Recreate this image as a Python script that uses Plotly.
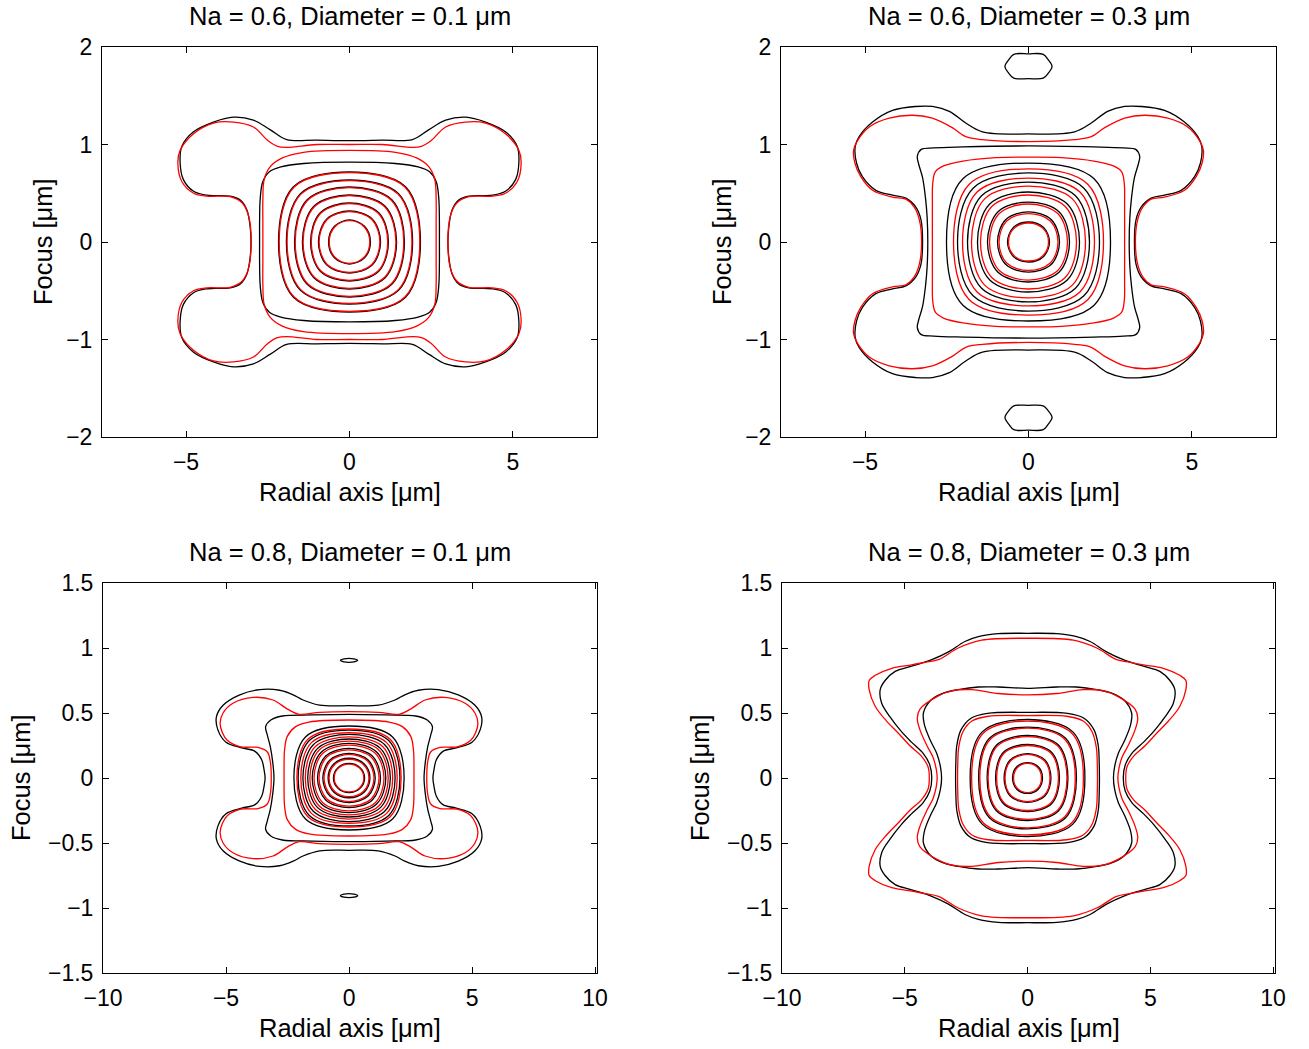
import plotly.graph_objects as go

# ---------------- Panel 1: Na = 0.6, Diameter = 0.1 um (quarter contours, first quadrant) -------------
P1_BLACK_OUTER_X = [0, 1.0, 1.92, 2.42, 2.94, 3.55, 4.16, 4.77, 5.13, 5.18, 5.08, 4.77, 4.36, 3.65, 3.34, 3.14, 3.04, 3.01]
P1_BLACK_OUTER_Y = [1.04, 1.045, 1.05, 1.15, 1.25, 1.28, 1.23, 1.13, 0.98, 0.81, 0.64, 0.52, 0.48, 0.47, 0.43, 0.33, 0.16, 0]
P1_RED_OUTER_X = [0, 1.0, 1.92, 2.2, 2.5, 2.94, 3.55, 4.16, 4.77, 5.18, 5.25, 5.13, 4.77, 4.36, 3.65, 3.28, 3.08, 3.01]
P1_RED_OUTER_Y = [1.00, 1.0, 0.97, 0.98, 1.04, 1.18, 1.23, 1.22, 1.11, 0.94, 0.81, 0.62, 0.50, 0.47, 0.465, 0.40, 0.26, 0]
P1_BLACK_SQ_X = [0, 1.4, 2.1, 2.45, 2.65, 2.73, 2.75, 2.75]
P1_BLACK_SQ_Y = [0.82, 0.805, 0.77, 0.72, 0.62, 0.45, 0.2, 0]
P1_RED_SQ_X = [0, 1.41, 2.07, 2.43, 2.61, 2.65, 2.65, 2.65]
P1_RED_SQ_Y = [0.94, 0.92, 0.86, 0.77, 0.64, 0.43, 0.2, 0]
P1_BLACK_RING_RX = [0.64, 0.95, 1.19, 1.44, 1.68, 1.93, 2.17]
P1_BLACK_RING_RY = [0.226, 0.318, 0.40, 0.482, 0.564, 0.636, 0.718]
P1_BLACK_RING_CX = [0.46, 0.70, 0.894, 1.09, 1.295, 1.50, 1.715]
P1_BLACK_RING_CY = [0.162, 0.235, 0.300, 0.366, 0.434, 0.496, 0.567]
P1_RED_RING_RX = [0.62, 0.93, 1.17, 1.42, 1.66, 1.91, 2.15]
P1_RED_RING_RY = [0.219, 0.311, 0.393, 0.475, 0.557, 0.629, 0.711]
P1_RED_RING_CX = [0.445, 0.685, 0.88, 1.075, 1.28, 1.485, 1.70]
P1_RED_RING_CY = [0.157, 0.230, 0.295, 0.361, 0.429, 0.491, 0.562]

# ---------------- Panel 2: Na = 0.6, Diameter = 0.3 um ----------------
P2_BLACK_OUTER_X = [0, 1.41, 1.92, 2.42, 2.94, 3.45, 4.16, 4.77, 5.18, 5.3, 5.26, 5.08, 4.67, 4.16, 3.75, 3.45, 3.29, 3.24]
P2_BLACK_OUTER_Y = [1.108, 1.13, 1.22, 1.34, 1.39, 1.39, 1.35, 1.23, 1.08, 0.98, 0.81, 0.67, 0.53, 0.48, 0.45, 0.36, 0.23, 0]
P2_RED_OUTER_X = [0, 1.41, 1.92, 2.32, 2.94, 3.55, 4.26, 4.87, 5.23, 5.35, 5.31, 5.13, 4.77, 4.16, 3.75, 3.5, 3.34, 3.27]
P2_RED_OUTER_Y = [1.03, 1.05, 1.08, 1.17, 1.27, 1.30, 1.27, 1.18, 1.04, 0.94, 0.81, 0.67, 0.53, 0.46, 0.44, 0.36, 0.23, 0]
P2_BLACK_SQ_X = [0, 2.0, 2.9, 3.28, 3.40, 3.36, 3.24, 3.15, 3.10, 3.08]
P2_BLACK_SQ_Y = [0.985, 0.975, 0.965, 0.95, 0.88, 0.80, 0.66, 0.45, 0.25, 0]
P2_RED_SQ_X = [0, 1.0, 2.0, 2.6, 2.85, 2.93, 2.94, 2.94]
P2_RED_SQ_Y = [0.87, 0.865, 0.83, 0.78, 0.72, 0.6, 0.4, 0]
P2_ISLAND_X = [0, 0.45, 0.6, 0.72, 0.6, 0.45, 0]
P2_ISLAND_Y = [1.93, 1.925, 1.87, 1.80, 1.73, 1.68, 1.675]
P2_BLACK_RING_RX = [0.642, 0.948, 1.254, 1.56, 1.865, 2.171, 2.508]
P2_BLACK_RING_RY = [0.205, 0.308, 0.410, 0.513, 0.615, 0.708, 0.810]
P2_BLACK_RING_CX = [0.462, 0.70, 0.94, 1.186, 1.436, 1.694, 2.006]
P2_BLACK_RING_CY = [0.148, 0.228, 0.308, 0.390, 0.474, 0.552, 0.648]
P2_RED_RING_RX = [0.612, 0.902, 1.193, 1.468, 1.743, 2.018, 2.294]
P2_RED_RING_RY = [0.195, 0.292, 0.390, 0.482, 0.574, 0.656, 0.749]
P2_RED_RING_CX = [0.44, 0.667, 0.894, 1.116, 1.342, 1.574, 1.812]
P2_RED_RING_CY = [0.140, 0.216, 0.292, 0.366, 0.442, 0.512, 0.592]

# ---------------- Panel 3: Na = 0.8, Diameter = 0.1 um ----------------
P3_BLACK_OUTER_X = [0, 1.19, 1.87, 2.27, 2.82, 3.63, 4.44, 5.12, 5.39, 5.33, 5.0, 4.36, 3.82, 3.55, 3.45, 3.41]
P3_BLACK_OUTER_Y = [0.556, 0.56, 0.60, 0.64, 0.675, 0.68, 0.64, 0.56, 0.47, 0.37, 0.275, 0.232, 0.205, 0.14, 0.06, 0]
P3_RED_OUTER_X = [0, 1.2, 2.03, 2.5, 3.09, 3.9, 4.72, 5.12, 5.24, 5.15, 4.95, 4.4, 3.7, 3.32, 3.2, 3.16]
P3_RED_OUTER_Y = [0.51, 0.505, 0.49, 0.53, 0.60, 0.62, 0.575, 0.50, 0.42, 0.35, 0.29, 0.24, 0.235, 0.20, 0.126, 0]
P3_BLACK_SQ_X = [0, 1.5, 2.71, 3.18, 3.39, 3.32, 3.2, 3.1, 3.05]
P3_BLACK_SQ_Y = [0.49, 0.485, 0.477, 0.446, 0.395, 0.33, 0.241, 0.12, 0]
P3_RED_SQ_X = [0, 1.63, 2.17, 2.51, 2.62, 2.64, 2.64]
P3_RED_SQ_Y = [0.446, 0.43, 0.395, 0.32, 0.215, 0.1, 0]
P3_ISLAND_X = [0, 0.2, 0.35, 0.2, 0]
P3_ISLAND_Y = [0.92, 0.917, 0.905, 0.893, 0.89]
P3_BLACK_RING_RX = [0.634, 0.850, 1.065, 1.280, 1.496, 1.679, 1.874, 2.069, 2.240]
P3_BLACK_RING_RY = [0.113, 0.152, 0.190, 0.228, 0.267, 0.300, 0.335, 0.369, 0.400]
P3_BLACK_RING_CX = [0.450, 0.612, 0.777, 0.948, 1.122, 1.276, 1.443, 1.614, 1.769]
P3_BLACK_RING_CY = [0.080, 0.109, 0.139, 0.169, 0.200, 0.228, 0.258, 0.288, 0.316]
P3_RED_RING_RX = [0.602, 0.809, 1.016, 1.220, 1.423, 1.593, 1.776, 1.959, 2.118]
P3_RED_RING_RY = [0.107, 0.144, 0.181, 0.217, 0.253, 0.284, 0.316, 0.348, 0.377]
P3_RED_RING_CX = [0.427, 0.582, 0.742, 0.902, 1.067, 1.211, 1.367, 1.528, 1.673]
P3_RED_RING_CY = [0.076, 0.104, 0.132, 0.161, 0.190, 0.216, 0.243, 0.272, 0.298]

# ---------------- Panel 4: Na = 0.8, Diameter = 0.3 um ----------------
P4_BLACK_OUTER_X = [0, 1.19, 2.0, 2.55, 3.22, 3.9, 4.72, 5.39, 5.8, 6.0, 5.94, 5.6, 5.15, 4.75, 4.25, 3.98, 3.9]
P4_BLACK_OUTER_Y = [1.113, 1.11, 1.087, 1.05, 0.97, 0.91, 0.86, 0.82, 0.75, 0.68, 0.575, 0.47, 0.36, 0.28, 0.19, 0.10, 0]
P4_RED_OUTER_X = [0, 1.87, 2.82, 3.63, 4.17, 4.72, 5.53, 6.2, 6.45, 6.45, 6.2, 5.75, 5.26, 4.8, 4.33, 4.05, 4.0]
P4_RED_OUTER_Y = [1.075, 1.06, 1.0, 0.91, 0.89, 0.87, 0.844, 0.79, 0.75, 0.68, 0.55, 0.44, 0.344, 0.25, 0.17, 0.085, 0]
P4_BLACK_MID_X = [0, 1.19, 2.0, 2.82, 3.4, 3.93, 4.24, 4.2, 3.96, 3.7, 3.55, 3.5]
P4_BLACK_MID_Y = [0.69, 0.70, 0.70, 0.68, 0.655, 0.60, 0.50, 0.41, 0.29, 0.19, 0.09, 0]
P4_RED_MID_X = [0, 1.19, 2.28, 3.09, 3.65, 4.38, 4.49, 4.38, 4.1, 3.85, 3.72, 3.68]
P4_RED_MID_Y = [0.64, 0.65, 0.68, 0.67, 0.63, 0.53, 0.46, 0.37, 0.25, 0.16, 0.07, 0]
P4_BLACK_SQ_X = [0, 1.63, 2.3, 2.71, 2.88, 2.92, 2.93]
P4_BLACK_SQ_Y = [0.505, 0.497, 0.46, 0.37, 0.25, 0.12, 0]
P4_RED_SQ_X = [0, 1.6, 2.25, 2.62, 2.8, 2.84, 2.85]
P4_RED_SQ_Y = [0.48, 0.475, 0.44, 0.36, 0.24, 0.12, 0]
P4_BLACK_RING_RX = [0.610, 0.955, 1.301, 1.646, 1.992, 2.337]
P4_BLACK_RING_RY = [0.119, 0.188, 0.258, 0.327, 0.392, 0.450]
P4_BLACK_RING_CX = [0.439, 0.707, 0.988, 1.268, 1.553, 1.846]
P4_BLACK_RING_CY = [0.086, 0.139, 0.196, 0.252, 0.306, 0.355]
P4_RED_RING_RX = [0.569, 0.915, 1.260, 1.606, 1.943, 2.276]
P4_RED_RING_RY = [0.112, 0.181, 0.250, 0.318, 0.383, 0.438]
P4_RED_RING_CX = [0.410, 0.677, 0.959, 1.236, 1.516, 1.797]
P4_RED_RING_CY = [0.080, 0.134, 0.190, 0.245, 0.298, 0.346]

TITLES = ["Na = 0.6, Diameter = 0.1 μm", "Na = 0.6, Diameter = 0.3 μm",
          "Na = 0.8, Diameter = 0.1 μm", "Na = 0.8, Diameter = 0.3 μm"]
XLABEL = "Radial axis [μm]"
YLABEL = "Focus [μm]"
TOP_XTICKS = [-5, 0, 5]
TOP_YTICKS = [-2, -1, 0, 1, 2]
BOT_XTICKS = [-10, -5, 0, 5, 10]
BOT_YTICKS = [-1.5, -1, -0.5, 0, 0.5, 1, 1.5]


def quad_loop(qx, qy):
    """Mirror a first-quadrant contour (from the +y axis to the +x axis) into a closed loop."""
    qx, qy = list(qx), list(qy)
    x4 = [x for x in reversed(qx)][1:]
    y4 = [-y for y in reversed(qy)][1:]
    x3 = [-x for x in qx][1:]
    y3 = [-y for y in qy][1:]
    x2 = [-x for x in reversed(qx)][1:]
    y2 = [y for y in reversed(qy)][1:]
    return qx + x4 + x3 + x2, qy + y4 + y3 + y2


def half_loop(hx, hy, sign=1):
    hx, hy = list(hx), [sign * y for y in hy]
    mx = [-x for x in reversed(hx)][1:]
    my = [y for y in reversed(hy)][1:]
    return hx + mx, hy + my


fig = go.Figure()
W, H = 1309, 1049


def fx(px):
    return px / W


def fy(py):
    return 1 - py / H


LW = 1.3


def add_line(xs, ys, color, ax):
    fig.add_trace(go.Scatter(x=xs, y=ys, mode="lines",
                             line=dict(color=color, width=LW, shape="spline", smoothing=1),
                             xaxis="x" + ax, yaxis="y" + ax, hoverinfo="skip", showlegend=False))


def add_quad(qx, qy, color, ax):
    x, y = quad_loop(qx, qy)
    add_line(x, y, color, ax)


def add_rings(rx, ry, cx, cy, color, ax):
    for a, b, c, d in zip(rx, ry, cx, cy):
        add_quad([0, c, a], [b, d, 0], color, ax)


# ---- panel 1
ax = ""
add_quad(P1_BLACK_OUTER_X, P1_BLACK_OUTER_Y, "black", ax)
add_quad(P1_BLACK_SQ_X, P1_BLACK_SQ_Y, "black", ax)
add_rings(P1_BLACK_RING_RX, P1_BLACK_RING_RY, P1_BLACK_RING_CX, P1_BLACK_RING_CY, "black", ax)
add_quad(P1_RED_OUTER_X, P1_RED_OUTER_Y, "red", ax)
add_quad(P1_RED_SQ_X, P1_RED_SQ_Y, "red", ax)
add_rings(P1_RED_RING_RX, P1_RED_RING_RY, P1_RED_RING_CX, P1_RED_RING_CY, "red", ax)

# ---- panel 2
ax = "2"
add_quad(P2_BLACK_OUTER_X, P2_BLACK_OUTER_Y, "black", ax)
add_quad(P2_BLACK_SQ_X, P2_BLACK_SQ_Y, "black", ax)
add_rings(P2_BLACK_RING_RX, P2_BLACK_RING_RY, P2_BLACK_RING_CX, P2_BLACK_RING_CY, "black", ax)
for s in (1, -1):
    ix, iy = half_loop(P2_ISLAND_X, P2_ISLAND_Y, s)
    add_line(ix, iy, "black", ax)
add_quad(P2_RED_OUTER_X, P2_RED_OUTER_Y, "red", ax)
add_quad(P2_RED_SQ_X, P2_RED_SQ_Y, "red", ax)
add_rings(P2_RED_RING_RX, P2_RED_RING_RY, P2_RED_RING_CX, P2_RED_RING_CY, "red", ax)

# ---- panel 3
ax = "3"
add_quad(P3_BLACK_OUTER_X, P3_BLACK_OUTER_Y, "black", ax)
add_quad(P3_BLACK_SQ_X, P3_BLACK_SQ_Y, "black", ax)
add_rings(P3_BLACK_RING_RX, P3_BLACK_RING_RY, P3_BLACK_RING_CX, P3_BLACK_RING_CY, "black", ax)
for s in (1, -1):
    ix, iy = half_loop(P3_ISLAND_X, P3_ISLAND_Y, s)
    add_line(ix, iy, "black", ax)
add_quad(P3_RED_OUTER_X, P3_RED_OUTER_Y, "red", ax)
add_quad(P3_RED_SQ_X, P3_RED_SQ_Y, "red", ax)
add_rings(P3_RED_RING_RX, P3_RED_RING_RY, P3_RED_RING_CX, P3_RED_RING_CY, "red", ax)

# ---- panel 4
ax = "4"
add_quad(P4_BLACK_OUTER_X, P4_BLACK_OUTER_Y, "black", ax)
add_quad(P4_BLACK_MID_X, P4_BLACK_MID_Y, "black", ax)
add_quad(P4_BLACK_SQ_X, P4_BLACK_SQ_Y, "black", ax)
add_rings(P4_BLACK_RING_RX, P4_BLACK_RING_RY, P4_BLACK_RING_CX, P4_BLACK_RING_CY, "black", ax)
add_quad(P4_RED_OUTER_X, P4_RED_OUTER_Y, "red", ax)
add_quad(P4_RED_MID_X, P4_RED_MID_Y, "red", ax)
add_quad(P4_RED_SQ_X, P4_RED_SQ_Y, "red", ax)
add_rings(P4_RED_RING_RX, P4_RED_RING_RY, P4_RED_RING_CX, P4_RED_RING_CY, "red", ax)

FONT = "Liberation Sans, Arial, Helvetica, sans-serif"
common = dict(showline=True, linecolor="black", linewidth=1, mirror="ticks", ticks="inside",
              ticklen=6, tickcolor="black", tickwidth=1, showgrid=False, zeroline=False,
              automargin=False, fixedrange=True,
              tickfont=dict(family=FONT, size=23, color="black"))

# panel boxes in target pixels
boxes = {
    "": (102, 597, 47, 437),
    "2": (781, 1276, 47, 437),
    "3": (103, 597, 583, 973),
    "4": (782, 1275, 583, 973),
}
layout = dict(width=W, height=H, margin=dict(l=0, r=0, t=0, b=0, pad=0, autoexpand=False),
              paper_bgcolor="white", plot_bgcolor="white", showlegend=False)
for key, (x0, x1, y0, y1) in boxes.items():
    top = key in ("", "2")
    xa = dict(common, domain=[fx(x0), fx(x1)], anchor="y" + key,
              range=[-7.57, 7.57] if top else [-10, 10.08],
              tickvals=TOP_XTICKS if top else BOT_XTICKS, ticklabelstandoff=4)
    ya = dict(common, domain=[fy(y1), fy(y0)], anchor="x" + key,
              range=[-2, 2] if top else [-1.5, 1.5],
              tickvals=TOP_YTICKS if top else BOT_YTICKS, ticklabelstandoff=4)
    layout["xaxis" + key] = xa
    layout["yaxis" + key] = ya

fig.update_layout(**layout)

ann = []
centers = [(350, 16, 492, 43, 242), (1029, 16, 492, 722, 242),
           (350, 552, 1028, 21, 778), (1029, 552, 1028, 700, 778)]
TFONT = dict(family=FONT, size=25.5, color="black")
for t, (cx, ty, xly, ylx, yly) in zip(TITLES, centers):
    ann.append(dict(text=t, x=fx(cx), y=fy(ty), xref="paper", yref="paper", showarrow=False,
                    xanchor="center", yanchor="middle", font=TFONT))
    ann.append(dict(text=XLABEL, x=fx(cx), y=fy(xly), xref="paper", yref="paper", showarrow=False,
                    xanchor="center", yanchor="middle", font=TFONT))
    ann.append(dict(text=YLABEL, x=fx(ylx), y=fy(yly), xref="paper", yref="paper", showarrow=False,
                    xanchor="center", yanchor="middle", textangle=-90, font=TFONT))
fig.update_layout(annotations=ann)

fig.write_html("out.html", config={"displayModeBar": False, "staticPlot": True},
               post_script="document.body.style.margin='0';document.body.style.overflow='hidden';")
